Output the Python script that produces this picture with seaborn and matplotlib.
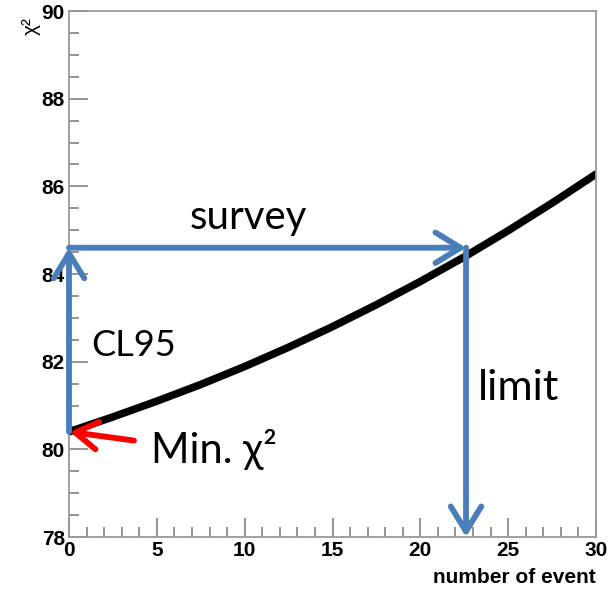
import matplotlib
matplotlib.use("Agg")
import matplotlib.pyplot as plt
import seaborn as sns
from matplotlib.ticker import MultipleLocator

## Data
n_events = [0, 2.5, 5, 7.5, 10, 12.5, 15, 17.5, 20, 22.5, 25, 27.5, 30]
chi2 = [80.40, 80.74, 81.10, 81.48, 81.89, 82.33, 82.80, 83.30, 83.83, 84.39, 84.99, 85.62, 86.28]

chi2_min = 80.4
chi2_cl95 = 84.6
n_limit = 22.6
x_range = (0, 30)
y_range = (78, 90)

## Style
sns.set_style("white")
plt.rcParams['font.family'] = ['Liberation Sans', 'DejaVu Sans']
plt.rcParams['text.color'] = 'black'

fig = plt.figure(figsize=(6.09, 5.90), dpi=100)
ax = fig.add_axes([0.1133, 0.0898, 0.8654, 0.8915])

# chi2 curve
sns.lineplot(x=n_events, y=chi2, color='black', linewidth=5.5, ax=ax,
             solid_capstyle='round', solid_joinstyle='round')

ax.set_xlim(*x_range)
ax.set_ylim(*y_range)

# ROOT-like frame and ticks
for side in ax.spines.values():
    side.set_color('#999999')
    side.set_linewidth(1.3)
ax.xaxis.set_major_locator(MultipleLocator(5))
ax.xaxis.set_minor_locator(MultipleLocator(1))
ax.yaxis.set_major_locator(MultipleLocator(2))
ax.yaxis.set_minor_locator(MultipleLocator(0.5))
ax.tick_params(which='major', direction='in', length=13.5, width=1.1,
               color='#777777', labelsize=15, labelcolor='black', pad=3,
               bottom=True, left=True, top=False, right=False)
ax.tick_params(which='minor', direction='in', length=7, width=1.1,
               color='#777777', bottom=True, left=True, top=False, right=False)
for lab in ax.get_xticklabels() + ax.get_yticklabels():
    lab.set_fontweight('bold')

ax.set_xlabel("")
ax.set_ylabel("")
fig.text(0.979, 0.022, "number of event", ha='right', va='center',
         fontsize=15, fontweight='bold')
fig.text(0.052, 0.955, "χ²", rotation=90, ha='center', va='center', fontsize=15)

## Arrows
blue = '#4A7EBB'
arrow_kw = dict(arrowstyle='->,head_length=0.9,head_width=0.55', color=blue,
                lw=4.2, shrinkA=0, shrinkB=0, mutation_scale=20)
ax.annotate("", xy=(0, chi2_cl95), xytext=(0, chi2_min),
            arrowprops=arrow_kw, annotation_clip=False)
ax.annotate("", xy=(n_limit, chi2_cl95), xytext=(0, chi2_cl95),
            arrowprops=arrow_kw, annotation_clip=False)
ax.annotate("", xy=(n_limit, y_range[0]), xytext=(n_limit, chi2_cl95),
            arrowprops=arrow_kw, annotation_clip=False)
ax.annotate("", xy=(0.05, chi2_min), xytext=(3.7, 80.2),
            arrowprops=dict(arrowstyle='->,head_length=0.8,head_width=0.5',
                            color='red', lw=4.2, shrinkA=0, shrinkB=0,
                            mutation_scale=20),
            annotation_clip=False)

## Annotation text
txt_font = ['Lato', 'Open Sans', 'DejaVu Sans']
ax.text(10.2, 85.03, "survey", ha='center', va='baseline', fontsize=29, family=txt_font)
ax.text(1.25, 82.12, "CL95", ha='left', va='baseline', fontsize=26, family=txt_font)
ax.text(23.3, 81.12, "limit", ha='left', va='baseline', fontsize=31, family=txt_font)
ax.text(4.66, 79.68, "Min. χ²", ha='left', va='baseline', fontsize=30, family=txt_font)

fig.savefig("out.png", dpi=100)
